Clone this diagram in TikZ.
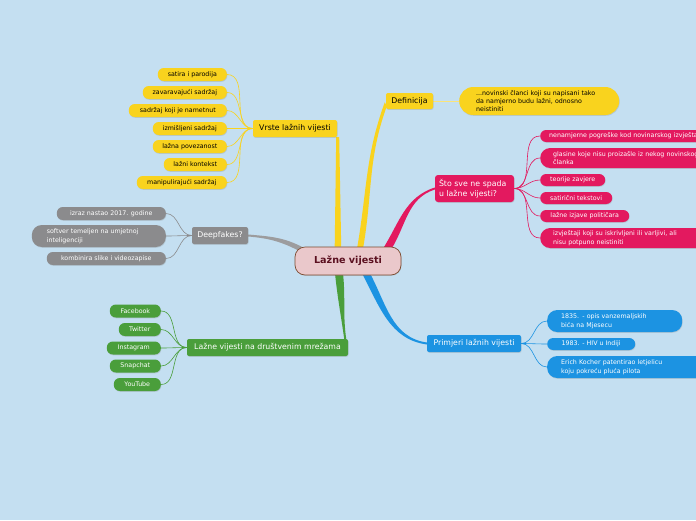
\documentclass[tikz,border=0pt]{standalone}
\usepackage{fontspec}
\setmainfont{DejaVu Sans}
\usepackage{tikz}
\usetikzlibrary{positioning,shadows,backgrounds}
\definecolor{Bg}{HTML}{C4DFF1}
\definecolor{Yel}{HTML}{F9D31E}
\definecolor{Pnk}{HTML}{E3195F}
\definecolor{Gry}{HTML}{8B8B8D}
\definecolor{Grn}{HTML}{4A9E3B}
\definecolor{Blu}{HTML}{1C93E2}
\definecolor{Root}{HTML}{EAC8CB}
\definecolor{RootLine}{HTML}{7C4B30}
\definecolor{RootText}{HTML}{5B1020}

\tikzset{
  softshadow/.style={drop shadow={shadow xshift=0.5pt,shadow yshift=-0.8pt,opacity=0.25}},
  topic/.style={softshadow,rounded corners=2pt,inner sep=0pt,minimum height=17pt,font=\fontsize{7.8}{10.5}\selectfont},
  leaf/.style={softshadow,rounded corners=6pt,inner sep=0pt,minimum height=13pt,font=\fontsize{6.3}{8.6}\selectfont},
  twoline/.style={leaf,rounded corners=10pt,align=left,minimum height=22pt},
  twig/.style={line width=0.6pt},
}

\begin{document}
\begin{tikzpicture}[x=1pt,y=1pt]
  \useasboundingbox (0,0) rectangle (696,-520);

  % root
  \node[draw=RootLine,line width=0.7pt,fill=Root,rounded corners=10pt,minimum width=106pt,minimum height=28pt,
        font=\fontsize{9.6}{11}\selectfont\bfseries,text=RootText,softshadow] (lv) at (348,-261) {Lažne vijesti};

  % vrste
  \node[topic,fill=Yel,minimum width=84pt] (vrste) at (295,-128.5) {Vrste lažnih vijesti};
  \node[leaf,fill=Yel,minimum width=69pt,anchor=east] (satira) at (227,-74.5) {satira i parodija};
  \node[leaf,fill=Yel,minimum width=84pt,anchor=east] (zavar) at (227,-92.5) {zavaravajući sadržaj};
  \node[leaf,fill=Yel,minimum width=98pt,anchor=east] (namet) at (227,-110.5) {sadržaj koji je nametnut};
  \node[leaf,fill=Yel,minimum width=74pt,anchor=east] (izmis) at (227,-128.5) {izmišljeni sadržaj};
  \node[leaf,fill=Yel,minimum width=74pt,anchor=east] (povez) at (227,-146.5) {lažna povezanost};
  \node[leaf,fill=Yel,minimum width=63pt,anchor=east] (kontekst) at (227,-164.5) {lažni kontekst};
  \node[leaf,fill=Yel,minimum width=90pt,anchor=east] (manip) at (227,-182.5) {manipulirajući sadržaj};

  % definicija
  \node[topic,fill=Yel,minimum width=47pt,minimum height=16pt] (def) at (409.5,-101) {Definicija};
  \node[leaf,fill=Yel,rounded corners=14pt,minimum height=28pt,anchor=west,text width=126pt,inner xsep=17pt,
        align=left,font=\fontsize{6.3}{8}\selectfont] (defleaf) at (459,-101)
        {...novinski članci koji su napisani tako\\da namjerno budu lažni, odnosno\\neistiniti};

  % sto ne spada
  \node[topic,fill=Pnk,text=white,rounded corners=3pt,minimum height=27pt,text width=71pt,inner xsep=4pt,align=left] (sto) at (474.5,-188.5)
        {Što sve ne spada\\u lažne vijesti?};
  \node[leaf,fill=Pnk,text=white,anchor=west,minimum height=12pt,text width=200pt,inner xsep=9pt,align=left] (nenam) at (540,-136) {nenamjerne pogreške kod novinarskog izvještavanja};
  \node[twoline,fill=Pnk,text=white,anchor=west,minimum height=20pt,text width=180pt,inner xsep=13pt] (glasine) at (540,-158) {glasine koje nisu proizašle iz nekog novinskog\\članka};
  \node[leaf,fill=Pnk,text=white,anchor=west,minimum height=12pt,minimum width=65pt] (teorije) at (540,-180) {teorije zavjere};
  \node[leaf,fill=Pnk,text=white,anchor=west,minimum height=12pt,minimum width=72pt] (satir) at (540,-198) {satirični tekstovi};
  \node[leaf,fill=Pnk,text=white,anchor=west,minimum height=12pt,minimum width=89pt] (izjave) at (540,-216) {lažne izjave političara};
  \node[twoline,fill=Pnk,text=white,anchor=west,minimum height=20pt,text width=140pt,inner xsep=13pt] (iskriv) at (540,-238) {izvještaji koji su iskrivljeni ili varljivi, ali\\nisu potpuno neistiniti};

  % deepfakes
  \node[topic,fill=Gry,text=white,minimum width=56pt] (deep) at (220,-235.5) {Deepfakes?};
  \node[leaf,fill=Gry,text=white,minimum width=109pt,anchor=east] (izraz) at (166,-213.5) {izraz nastao 2017. godine};
  \node[twoline,fill=Gry,text=white,anchor=east,text width=104pt,inner xsep=15pt] (softver) at (166,-236) {softver temeljen na umjetnoj\\inteligenciji};
  \node[leaf,fill=Gry,text=white,minimum width=119pt,anchor=east] (kombin) at (166,-258.5) {kombinira slike i videozapise};

  % mreze
  \node[topic,fill=Grn,text=white,minimum width=161pt] (mreze) at (267.5,-347.5) {Lažne vijesti na društvenim mrežama};
  \node[leaf,fill=Grn,text=white,minimum width=51pt,anchor=east] (fb) at (161,-311) {Facebook};
  \node[leaf,fill=Grn,text=white,minimum width=42pt,anchor=east] (tw) at (161,-329.5) {Twitter};
  \node[leaf,fill=Grn,text=white,minimum width=54pt,anchor=east] (ig) at (161,-348) {Instagram};
  \node[leaf,fill=Grn,text=white,minimum width=51pt,anchor=east] (sc) at (161,-366) {Snapchat};
  \node[leaf,fill=Grn,text=white,minimum width=47pt,anchor=east] (yt) at (161,-384.5) {YouTube};

  % primjeri
  \node[topic,fill=Blu,text=white,minimum width=94pt] (prim) at (474,-343.5) {Primjeri lažnih vijesti};
  \node[twoline,fill=Blu,text=white,anchor=west,text width=107pt,inner xsep=14pt] (mjesec) at (547,-321) {1835. - opis vanzemaljskih\\bića na Mjesecu};
  \node[leaf,fill=Blu,text=white,anchor=west,minimum height=12pt,minimum width=88pt] (hiv) at (547,-344) {1983. - HIV u Indiji};
  \node[twoline,fill=Blu,text=white,anchor=west,text width=140pt,inner xsep=14pt] (kocher) at (547,-367) {Erich Kocher patentirao letjelicu\\koju pokreću pluća pilota};

  \begin{scope}[on background layer]
    \fill[Bg] (0,0) rectangle (696,-520);
    % main branches, tapered
    \fill[Yel] ([xshift=-2.5pt]vrste.south east |- lv.north) -- ([xshift=-1pt]vrste.south east)
      -- ([xshift=2pt]vrste.south east) -- ([xshift=4pt]vrste.south east |- lv.north) -- cycle;
    \fill[Yel] ([xshift=9pt,yshift=-2pt]lv.north) to[out=80,in=-110] ([xshift=-1pt,yshift=7pt]def.south west)
      -- ([xshift=1pt,yshift=3pt]def.south west) to[out=-110,in=80] ([xshift=15pt,yshift=-2pt]lv.north) -- cycle;
    \fill[Pnk] ([xshift=35pt,yshift=-2pt]lv.north) to[out=58,in=198] ([yshift=1pt]sto.west)
      -- ([yshift=-1pt]sto.west) to[out=198,in=58] ([xshift=43pt,yshift=-3pt]lv.north) -- cycle;
    \fill[Gry!85!white] ([xshift=-44.5pt,yshift=-1pt]lv.north) to[out=152,in=-5] ([yshift=1pt]deep.east)
      -- ([yshift=-1pt]deep.east) to[out=-5,in=152] ([xshift=-47.5pt,yshift=-5pt]lv.north) -- cycle;
    \fill[Grn] ([xshift=-13pt,yshift=2pt]lv.south) to[out=-84,in=98] ([xshift=-4pt]mreze.north east)
      -- ([xshift=-2pt]mreze.north east) to[out=98,in=-84] ([xshift=-5pt,yshift=2pt]lv.south) -- cycle;
    \fill[Blu] ([xshift=14pt,yshift=2pt]lv.south) to[out=-62,in=172] ([yshift=-1pt]prim.west)
      -- ([yshift=1pt]prim.west) to[out=172,in=-62] ([xshift=22pt,yshift=2pt]lv.south) -- cycle;
    % twigs
    \draw[twig,Yel] (vrste.west) to[out=180,in=0] (satira.east); \draw[twig,Yel] (vrste.west) to[out=180,in=0] (zavar.east);
    \draw[twig,Yel] (vrste.west) to[out=180,in=0] (namet.east); \draw[twig,Yel] (vrste.west) to[out=180,in=0] (izmis.east);
    \draw[twig,Yel] (vrste.west) to[out=180,in=0] (povez.east); \draw[twig,Yel] (vrste.west) to[out=180,in=0] (kontekst.east);
    \draw[twig,Yel] (vrste.west) to[out=180,in=0] (manip.east);
    \draw[twig,Yel!60!white] (def.east) -- (defleaf.west);
    \draw[twig,Pnk] (sto.east) to[out=0,in=180] (nenam.west); \draw[twig,Pnk] (sto.east) to[out=0,in=180] (glasine.west);
    \draw[twig,Pnk] (sto.east) to[out=0,in=180] (teorije.west); \draw[twig,Pnk] (sto.east) to[out=0,in=180] (satir.west);
    \draw[twig,Pnk] (sto.east) to[out=0,in=180] (izjave.west); \draw[twig,Pnk] (sto.east) to[out=0,in=180] (iskriv.west);
    \draw[twig,Gry] (deep.west) to[out=180,in=0] (izraz.east); \draw[twig,Gry] (deep.west) to[out=180,in=0] (softver.east);
    \draw[twig,Gry] (deep.west) to[out=180,in=0] (kombin.east);
    \draw[twig,Grn] (mreze.west) to[out=180,in=0] (fb.east); \draw[twig,Grn] (mreze.west) to[out=180,in=0] (tw.east);
    \draw[twig,Grn] (mreze.west) to[out=180,in=0] (ig.east); \draw[twig,Grn] (mreze.west) to[out=180,in=0] (sc.east);
    \draw[twig,Grn] (mreze.west) to[out=180,in=0] (yt.east);
    \draw[twig,Blu] (prim.east) to[out=0,in=180] (mjesec.west); \draw[twig,Blu] (prim.east) to[out=0,in=180] (hiv.west);
    \draw[twig,Blu] (prim.east) to[out=0,in=180] (kocher.west);
  \end{scope}
\end{tikzpicture}
\end{document}
